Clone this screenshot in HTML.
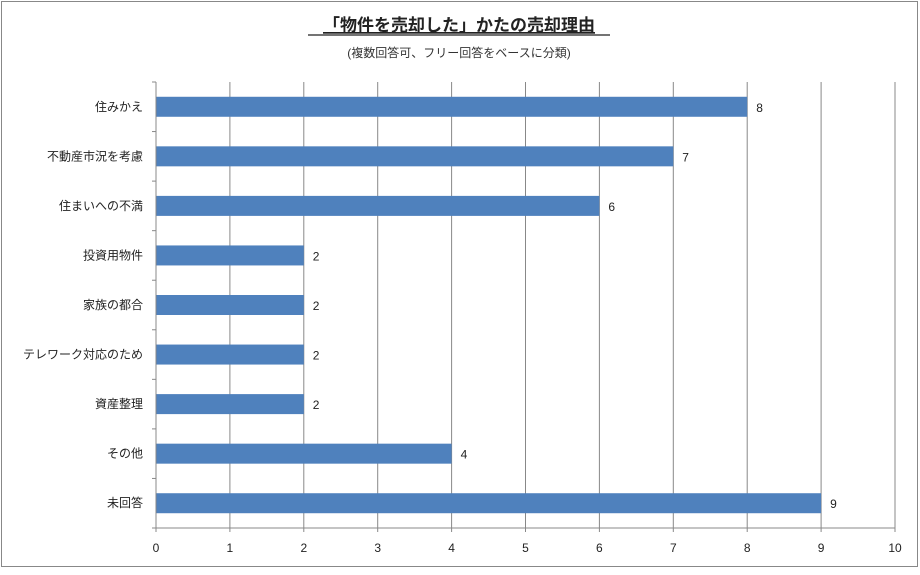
<!DOCTYPE html>
<html><head><meta charset="utf-8"><style>
body{margin:0;background:#fff;}
svg text{font-family:"Liberation Sans","Noto Sans CJK JP",sans-serif;}
</style></head><body>
<svg width="920" height="570" xmlns="http://www.w3.org/2000/svg">
<rect x="1.5" y="1.5" width="916" height="565" fill="#fff" stroke="#888"/>
<text x="459" y="31" text-anchor="middle" font-size="17" font-weight="bold" fill="#222" text-decoration="underline">「物件を売却した」かたの売却理由</text>
<line x1="308" y1="35" x2="610" y2="35" stroke="#222" stroke-width="1.2"/>
<text x="459" y="57" text-anchor="middle" font-size="12" fill="#333">(複数回答可、フリー回答をベースに分類)</text>
<g id="plot"></g>
</svg>
<script>
const categories=["住みかえ","不動産市況を考慮","住まいへの不満","投資用物件","家族の都合","テレワーク対応のため","資産整理","その他","未回答"];
const values=[8,7,6,2,2,2,2,4,9];
const ticks=[0,1,2,3,4,5,6,7,8,9,10];
const X0=156,X1=895,Y0=82,Y1=528,MAX=10;
const ns="http://www.w3.org/2000/svg";
const g=document.getElementById('plot');
function x(v){return X0+(X1-X0)*v/MAX;}
const band=(Y1-Y0)/categories.length;
function yc(i){return Y0+band*(i+0.5);}
function el(t,a){const e=document.createElementNS(ns,t);for(const k in a)e.setAttribute(k,a[k]);g.appendChild(e);return e;}
ticks.forEach(t=>{
  if(t>0){const l=el('line',{x1:x(t),y1:Y0,x2:x(t),y2:Y1,stroke:'#888'});
  
  }
  const tk=el('line',{x1:x(t),y1:Y1,x2:x(t),y2:Y1+4,stroke:'#888'});
  
  
  const tx=el('text',{x:x(t),y:552,'text-anchor':'middle','font-size':12,fill:'#222'});
  tx.textContent=t;
  
  
});
for(let i=0;i<=categories.length;i++){
  const t=el('line',{x1:X0-4,y1:Y0+band*i,x2:X0,y2:Y0+band*i,stroke:'#888'});
  
  
}
categories.forEach((c,i)=>{
  const r=el('rect',{x:X0,y:yc(i)-10,width:x(values[i])-X0,height:20,fill:'#4f81bd'});
  
  
  const lab=el('text',{x:143,y:yc(i)+4,'text-anchor':'end','font-size':12,fill:'#222'});
  lab.textContent=c;
  
  
  const v=el('text',{x:x(values[i])+9,y:yc(i)+5,'font-size':12,fill:'#222'});
  v.textContent=values[i];
  
  
});
const ax=el('line',{x1:X0,y1:Y0,x2:X0,y2:Y1,stroke:'#888'});


const bx=el('line',{x1:X0,y1:Y1,x2:X1,y2:Y1,stroke:'#888'});


</script>
</body></html>
